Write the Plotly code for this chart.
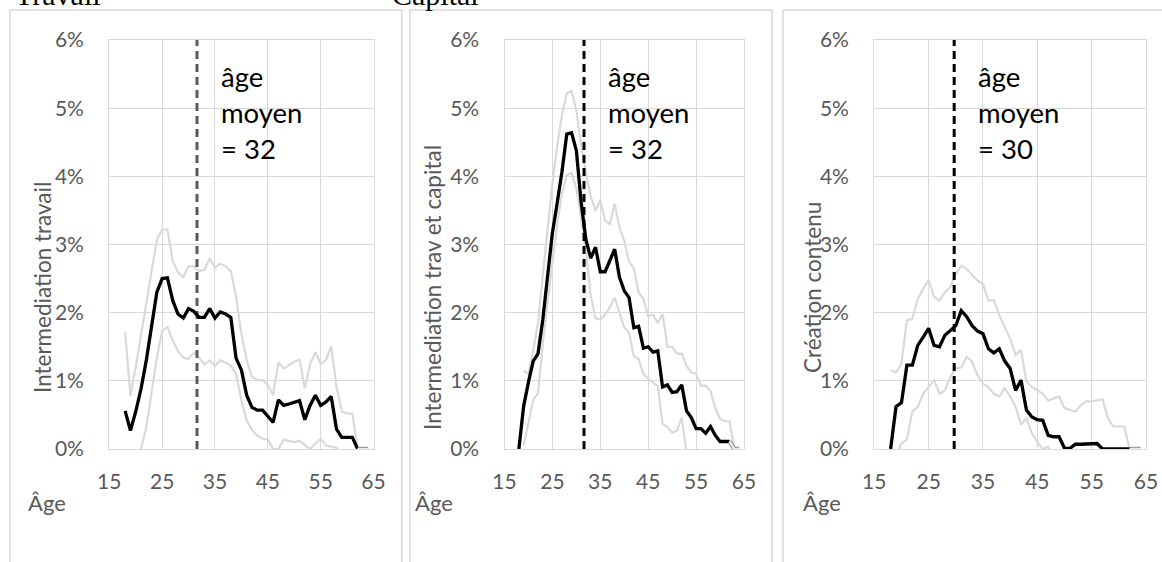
import plotly.graph_objects as go

W, H = 1162, 562

ages = list(range(18, 65))

# Panel 1 : Intermediation travail (values in %)
travail_mean = [0.56, 0.27, 0.55, 0.88, 1.30, 1.80, 2.30, 2.50, 2.51, 2.18, 1.98, 1.92, 2.06, 2.02,
                1.93, 1.93, 2.06, 1.92, 2.01, 1.98, 1.93, 1.33, 1.16, 0.79, 0.61, 0.57, 0.57, 0.48,
                0.39, 0.72, 0.64, 0.66, 0.69, 0.71, 0.43, 0.64, 0.79, 0.64, 0.69, 0.77, 0.29, 0.17,
                0.17, 0.17, 0.0, 0.0, 0.0]
travail_high = [1.71, 0.78, 1.20, 1.65, 2.10, 2.60, 3.07, 3.22, 3.22, 2.76, 2.59, 2.52, 2.68, 2.68,
                2.61, 2.63, 2.80, 2.66, 2.72, 2.68, 2.61, 2.23, 1.69, 1.30, 1.06, 1.01, 1.01, 0.94,
                0.79, 1.27, 1.18, 1.23, 1.28, 1.31, 0.89, 1.25, 1.42, 1.25, 1.30, 1.51, 0.91, 0.55,
                0.52, 0.52, 0.0, None, None]
travail_low = [-0.60, -0.25, -0.10, 0.0, 0.32, 0.80, 1.34, 1.73, 1.79, 1.59, 1.44, 1.34, 1.32, 1.41,
               1.34, 1.24, 1.30, 1.22, 1.30, 1.27, 1.22, 1.10, 0.71, 0.42, 0.28, 0.20, 0.15, 0.14,
               0.0, 0.0, 0.14, 0.12, 0.10, 0.12, 0.06, 0.0, 0.08, 0.15, 0.05, 0.04, 0.02, -0.10,
               -0.20, None, None, None, None]

# Panel 2 : Intermediation trav et capital
capital_mean = [0.0, 0.63, 0.98, 1.29, 1.40, 1.90, 2.54, 3.17, 3.61, 4.07, 4.62, 4.64, 4.38, 3.62,
                3.07, 2.80, 2.96, 2.60, 2.60, 2.76, 2.93, 2.52, 2.32, 2.22, 1.78, 1.80, 1.48, 1.50,
                1.42, 1.44, 0.91, 0.94, 0.83, 0.84, 0.94, 0.56, 0.46, 0.30, 0.30, 0.23, 0.33, 0.20,
                0.11, 0.11, 0.11, 0.0, 0.0]
capital_high = [None, 1.15, 1.10, 1.45, 1.85, 2.55, 3.25, 3.90, 4.45, 4.90, 5.22, 5.25, 4.97, 4.45,
                4.05, 3.70, 3.50, 3.65, 3.35, 3.30, 3.60, 3.25, 3.05, 2.75, 2.65, 2.30, 2.20, 1.95,
                1.97, 1.85, 1.98, 1.50, 1.50, 1.40, 1.40, 1.22, 1.12, 1.10, 0.93, 0.93, 0.85, 0.60,
                0.44, 0.41, 0.40, 0.0, None]
capital_low = [None, 0.05, 0.40, 0.72, 0.82, 1.55, 2.15, 2.75, 3.30, 3.75, 4.02, 4.05, 3.82, 3.39,
               2.90, 2.25, 1.92, 1.90, 1.97, 2.08, 2.22, 2.00, 1.78, 1.71, 1.36, 1.32, 1.10, 1.03,
               0.97, 0.92, 0.37, 0.32, 0.24, 0.27, 0.46, -0.05, -0.20, None, None, None, None, None,
               None, None, None, None, None]

# Panel 3 : Création contenu
contenu_mean = [0.0, 0.62, 0.68, 1.23, 1.23, 1.52, 1.64, 1.77, 1.52, 1.50, 1.67, 1.74, 1.81, 2.03,
                1.94, 1.81, 1.73, 1.69, 1.47, 1.41, 1.47, 1.29, 1.18, 0.86, 1.01, 0.57, 0.47, 0.43,
                0.42, 0.20, 0.18, 0.18, 0.01, 0.01, 0.07, 0.07, 0.07, 0.07, 0.08, 0.0, 0.0, 0.0,
                0.0, 0.0, 0.0, 0.0, 0.0]
contenu_high = [1.16, 1.12, 1.25, 1.89, 1.91, 2.20, 2.35, 2.48, 2.23, 2.18, 2.30, 2.38, 2.57, 2.69,
                2.64, 2.55, 2.47, 2.42, 2.18, 2.18, 1.96, 1.79, 1.62, 1.38, 1.45, 0.99, 0.91, 0.86,
                0.81, 0.71, 0.74, 0.77, 0.60, 0.58, 0.55, 0.64, 0.70, 0.70, 0.72, 0.73, 0.45, 0.33,
                0.33, 0.33, 0.0, None, None]
contenu_low = [-1.10, -0.10, 0.08, 0.14, 0.55, 0.62, 0.81, 0.91, 1.01, 0.81, 0.86, 1.06, 1.18, 1.20,
               1.35, 1.28, 1.08, 0.96, 0.91, 0.81, 0.77, 0.89, 0.77, 0.62, 0.36, 0.45, 0.23, 0.10,
               0.0, 0.03, -0.10, None, None, None, None, None, None, None, None, None, None, None,
               None, None, None, None, None]

mean_ages = [31.6, 31.6, 29.7]
y_titles = ["Intermediation travail", "Intermediation trav et capital", "Création contenu"]
x_title = "Âge"
group_titles = ["Travail", "Capital"]
x_ticks = [15, 25, 35, 45, 55, 65]
y_ticks = [0, 1, 2, 3, 4, 5, 6]
y_ticktext = [f"{v}%" for v in y_ticks]

panels = [
    (travail_mean, travail_high, travail_low, "#595959"),
    (capital_mean, capital_high, capital_low, "#000000"),
    (contenu_mean, contenu_high, contenu_low, "#000000"),
]

# layout geometry (pixels)
plot_x = [(109.3, 373.5), (504.5, 744.0), (874.3, 1146.0)]
plot_top, plot_bot = 40.0, 449.0
frames = [(10, 401.7), (410, 772), (783, 1180)]
ytitle_x = [42, 432, 812]
agelab_x = [47, 434, 822]

def fx(p):
    return p / W

def fy(p):
    return 1 - p / H

GRID = "#d9d9d9"
TXT = "#595959"
FONT = "Lato, 'Noto Sans', sans-serif"

fig = go.Figure()
tail_start = ages.index(62)

for i, (mean, high, low, dash_col) in enumerate(panels):
    xa = "x" if i == 0 else f"x{i+1}"
    ya = "y" if i == 0 else f"y{i+1}"
    for series in (high, low):
        fig.add_trace(go.Scatter(x=ages, y=series, mode="lines", xaxis=xa, yaxis=ya,
                                 line=dict(color=GRID, width=2.2), showlegend=False,
                                 hoverinfo="skip"))
    fig.add_trace(go.Scatter(x=[mean_ages[i], mean_ages[i]], y=[y_ticks[0], y_ticks[-1]],
                             mode="lines", xaxis=xa, yaxis=ya,
                             line=dict(color=dash_col, width=3, dash="8px,5px"),
                             showlegend=False, hoverinfo="skip"))
    fig.add_trace(go.Scatter(x=ages[:tail_start + 1], y=mean[:tail_start + 1], mode="lines",
                             xaxis=xa, yaxis=ya, line=dict(color="#000000", width=3.3),
                             showlegend=False))
    fig.add_trace(go.Scatter(x=ages[tail_start:], y=mean[tail_start:], mode="lines",
                             xaxis=xa, yaxis=ya, line=dict(color="#9a9a9a", width=4.5),
                             showlegend=False, hoverinfo="skip"))
    fig.add_trace(go.Scatter(x=ages[tail_start:], y=mean[tail_start:], mode="lines",
                             xaxis=xa, yaxis=ya, line=dict(color="#ececec", width=2.2),
                             showlegend=False, hoverinfo="skip"))

    axis_common = dict(showgrid=True, gridcolor=GRID, gridwidth=1.3, zeroline=False,
                       showline=True, mirror=True, linecolor=GRID, linewidth=1.3,
                       automargin=False,
                       tickfont=dict(family=FONT, size=21, color=TXT), ticks="")
    fig.layout[f"xaxis{'' if i == 0 else i+1}"] = dict(
        axis_common, domain=[fx(plot_x[i][0]), fx(plot_x[i][1])], anchor=ya,
        range=[x_ticks[0], x_ticks[-1]], tickmode="array", tickvals=x_ticks,
        ticklabelstandoff=14)
    fig.layout[f"yaxis{'' if i == 0 else i+1}"] = dict(
        axis_common, domain=[fy(plot_bot), fy(plot_top)], anchor=xa,
        range=[y_ticks[0], y_ticks[-1]], tickmode="array", tickvals=y_ticks,
        ticktext=y_ticktext, ticklabelstandoff=20)

    # frame
    fig.add_shape(type="rect", xref="paper", yref="paper",
                  x0=fx(frames[i][0]), x1=fx(frames[i][1]), y0=fy(620), y1=fy(10),
                  line=dict(color=GRID, width=1.5), layer="below")
    # mean age annotation
    fig.add_annotation(xref=xa, yref="paper", x=mean_ages[i], y=fy(58), xshift=22,
                       xanchor="left", yanchor="top", align="left", showarrow=False,
                       text=f"âge<br>moyen<br>= {round(mean_ages[i])}",
                       font=dict(family=FONT, size=27.5, color="#000000"))
    # y title
    fig.add_annotation(xref="paper", yref="paper", x=fx(ytitle_x[i]), y=fy(288),
                       xanchor="center", yanchor="middle", textangle=-90, showarrow=False,
                       text=y_titles[i], font=dict(family=FONT, size=22.5, color=TXT))
    # x title
    fig.add_annotation(xref="paper", yref="paper", x=fx(agelab_x[i]), y=fy(502),
                       xanchor="center", yanchor="middle", showarrow=False,
                       text=x_title, font=dict(family=FONT, size=22, color=TXT))

for t, cx in zip(group_titles, [13, 390]):
    fig.add_annotation(xref="paper", yref="paper", x=fx(cx), y=fy(13), xanchor="left",
                       yanchor="bottom", showarrow=False, text=t,
                       font=dict(family="Liberation Serif, serif", size=30, color="#000000"))

fig.update_layout(width=W, height=H, margin=dict(l=0, r=0, t=0, b=0, autoexpand=False),
                  paper_bgcolor="white", plot_bgcolor="white", showlegend=False)

fig.write_html("out.html")
